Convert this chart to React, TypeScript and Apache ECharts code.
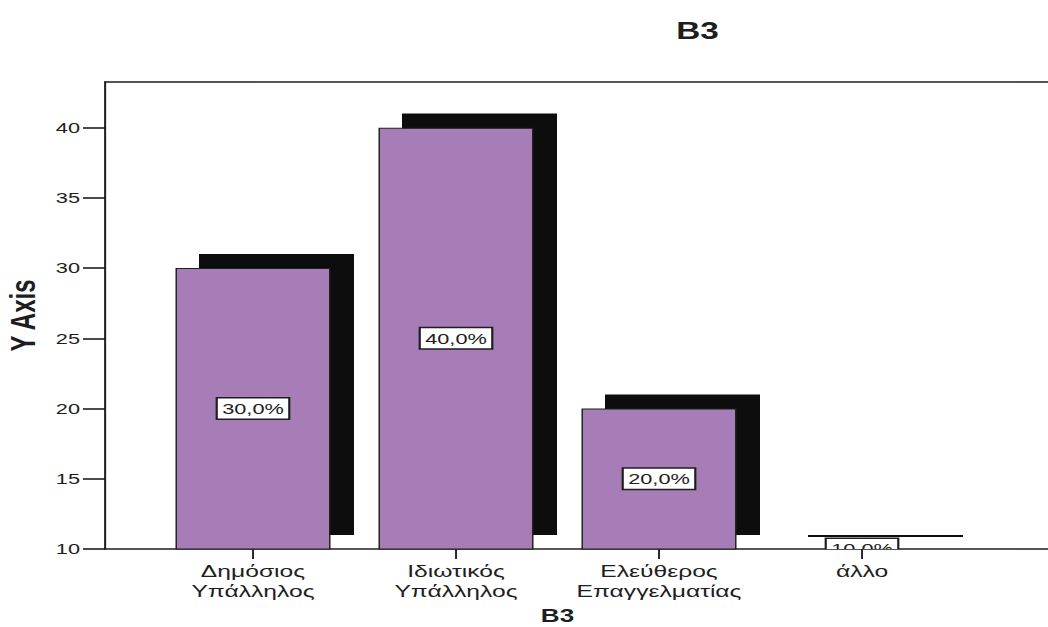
import React, { useEffect, useRef } from "react";
import * as echarts from "echarts";

// ---- data ----
const categories = ["Δημόσιος\nΥπάλληλος", "Ιδιωτικός\nΥπάλληλος", "Ελεύθερος\nΕπαγγελματίας", "άλλο"];
const values = [30, 40, 20, 10];
const yTickValues = [10, 15, 20, 25, 30, 35, 40];
const chartTitle = "B3";
const xAxisName = "B3";
const yAxisName = "Y Axis";

// ---- layout / style ----
const S = 1.45; // horizontal stretch of the scanned original
const W = 1048 / S;
const H = 627;
const yMin = 10;
const yMax = 43.25;
const shadowLift = 1;
const gridTop = 82;
const gridHeight = 467;
const frameLeft = 105 / S;
const barsLeft = 151.5 / S;
const barsWidth = 812 / S;
const barWidth = 155 / S;
const shadowDx = 23.5 / S;
const ink = "#1e1e1e";
const purple = "#a67db6";
const font = "'Liberation Sans', Arial, sans-serif";

const total = values.reduce((a, b) => a + b, 0);
const pct = (v: number) => ((v / total) * 100).toFixed(1).replace(".", ",") + "%";

export default function App() {
  const ref = useRef<HTMLDivElement>(null);
  useEffect(() => {
    if (!ref.current) return;
    const chart = echarts.init(ref.current, undefined, { renderer: "svg" });
    const seriesData = categories.map((_, i) => [i, values[i]]);
    chart.setOption({
      animation: false,
      backgroundColor: "#ffffff",
      title: {
        text: chartTitle,
        left: 476,
        top: 14,
        textAlign: "center",
        textStyle: { fontFamily: font, fontWeight: "bold", fontSize: 23, color: ink },
      },
      grid: [
        { left: frameLeft, top: gridTop, width: W - frameLeft, height: gridHeight, outerBoundsMode: "none", containLabel: false },
        { left: barsLeft, top: gridTop, width: barsWidth, height: gridHeight, outerBoundsMode: "none", containLabel: false },
      ],
      xAxis: [
        {
          gridIndex: 0, type: "value", min: 0, max: 1, position: "bottom",
          axisLine: { show: true, lineStyle: { color: ink, width: 1.6 } },
          axisTick: { show: false }, axisLabel: { show: false }, splitLine: { show: false },
        },
        {
          gridIndex: 0, type: "value", min: 0, max: 1, position: "top",
          axisLine: { show: true, lineStyle: { color: ink, width: 1.6 } },
          axisTick: { show: false }, axisLabel: { show: false }, splitLine: { show: false },
        },
        {
          gridIndex: 1, type: "category", data: categories,
          axisLine: { show: false },
          axisTick: { show: true, alignWithLabel: true, length: 10, lineStyle: { color: ink, width: 1.3 } },
          axisLabel: { fontFamily: font, fontSize: 17, lineHeight: 20, color: ink, margin: 12, interval: 0 },
          name: xAxisName, nameLocation: "middle", nameGap: 58,
          nameTextStyle: { fontFamily: font, fontWeight: "bold", fontSize: 18, lineHeight: 18, color: ink },
        },
      ],
      yAxis: [
        {
          gridIndex: 0, type: "value", min: yMin, max: yMax,
          axisLine: { show: true, lineStyle: { color: ink, width: 1.4 } },
          axisTick: { show: true, length: 22 / S, customValues: yTickValues, lineStyle: { color: ink, width: 1.6 } },
          axisLabel: { customValues: yTickValues, fontFamily: font, fontSize: 15, color: ink, margin: 25 / S },
          splitLine: { show: false },
          name: yAxisName, nameLocation: "middle", nameGap: 44, nameRotate: 90,
          nameTextStyle: { fontFamily: font, fontWeight: "bold", fontSize: 24, color: ink },
        },
        { gridIndex: 1, type: "value", min: yMin, max: yMax, show: false },
      ],
      series: [
        {
          type: "custom", name: "shadow", xAxisIndex: 2, yAxisIndex: 1, z: 1,
          data: seriesData,
          renderItem: (params: any, api: any) => {
            const i = api.value(0);
            const v = api.value(1);
            const top = api.coord([i, v + shadowLift]);
            const base = api.coord([i, yMin + shadowLift]);
            return {
              type: "rect",
              shape: { x: top[0] - barWidth / 2 + shadowDx, y: top[1], width: barWidth, height: Math.max(base[1] - top[1], 2) },
              style: { fill: "#0d0d0d" },
            };
          },
        },
        {
          type: "bar", name: "B3", xAxisIndex: 2, yAxisIndex: 1, z: 2,
          data: values, barWidth: barWidth,
          itemStyle: { color: purple, borderColor: ink, borderWidth: 1 },
        },
        {
          type: "custom", name: "labels", xAxisIndex: 2, yAxisIndex: 1, z: 5, clip: true,
          data: seriesData,
          renderItem: (params: any, api: any) => {
            const i = api.value(0);
            const v = api.value(1);
            const c = api.coord([i, (yMin + v) / 2]);
            return {
              type: "text",
              x: c[0], y: c[1],
              style: {
                text: pct(v), fill: ink, font: `15px ${font}`,
                align: "center", verticalAlign: "middle",
                backgroundColor: "#ffffff", borderColor: ink, borderWidth: 1.5, padding: [3, 3, 2, 3],
              },
            };
          },
        },
      ],
    });
    return () => chart.dispose();
  }, []);
  return (
    <div
      ref={ref}
      style={{ position: "fixed", left: 0, top: 0, width: W, height: H, transform: `scaleX(${S})`, transformOrigin: "0 0", background: "#fff" }}
    />
  );
}
